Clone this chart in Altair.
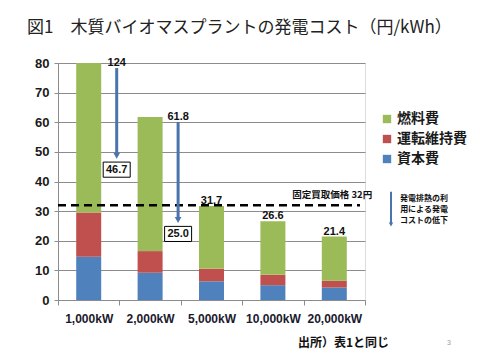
import altair as alt
import pandas as pd

# ---- data ----
categories = ["1,000kW", "2,000kW", "5,000kW", "10,000kW", "20,000kW"]
capital = [14.6, 9.2, 6.3, 5.0, 4.2]      # 資本費
om = [14.9, 7.3, 4.3, 3.5, 2.3]           # 運転維持費
fuel = [94.5, 45.3, 21.1, 18.1, 14.9]     # 燃料費
totals = [124, 61.8, 31.7, 26.6, 21.4]
series = ["燃料費", "運転維持費", "資本費"]
colors = ["#9BBB59", "#C0504D", "#4F81BD"]
fit_price = 32
fit_label = "固定買取価格 32円"
reduced_vals = [46.7, 25.0]
note_text = "発電排熱の利\n用による発電\nコストの低下"
title_text = "図1　木質バイオマスプラントの発電コスト（円/kWh）"
source_text = "出所）表1と同じ"
page_no = "3"
y_ticks = [0, 10, 20, 30, 40, 50, 60, 70, 80]

YMAX = 80
NUMFONT = "Liberation Sans"
JPFONT = "Noto Sans CJK JP"

rows = []
for i, c in enumerate(categories):
    for name, vals, order in (("資本費", capital, 0), ("運転維持費", om, 1), ("燃料費", fuel, 2)):
        rows.append({"category": c, "series": name, "value": vals[i], "order": order})
df = pd.DataFrame(rows)

xaxis = alt.Axis(title=None, tickBand="extent", labelAngle=0,
                 labelFont=NUMFONT, labelFontWeight="bold", labelFontSize=12,
                 labelColor="#1a1a2e", labelPadding=8, tickSize=5,
                 domainColor="#8c8c8c", tickColor="#8c8c8c")
xscale = alt.Scale(domain=categories, paddingInner=0, paddingOuter=0)
yaxis = alt.Axis(title=None, values=y_ticks, grid=True, gridColor="#8c8c8c",
                 domainColor="#8c8c8c", tickColor="#8c8c8c", tickSize=4,
                 labelOverlap=False, labelFont=NUMFONT, labelFontWeight="bold",
                 labelFontSize=13, labelColor="#1a1a1a", labelPadding=5)
yscale = alt.Scale(domain=[0, YMAX], nice=False, zero=True)


def X():
    return alt.X("category:N", sort=categories, scale=xscale, axis=xaxis)


def Y(field, **kw):
    return alt.Y(field, scale=yscale, axis=yaxis, **kw)


bars = alt.Chart(df).mark_bar(size=25, clip=True).encode(
    x=X(),
    y=Y("value:Q", stack="zero"),
    color=alt.Color("series:N", scale=alt.Scale(domain=series, range=colors),
                    legend=alt.Legend(title=None, orient="none", legendX=322, legendY=49,
                                      symbolType="square", symbolSize=70, symbolStrokeWidth=0,
                                      labelFont=JPFONT, labelFontWeight="bold",
                                      labelFontSize=14, labelColor="#1a1a1a",
                                      labelOffset=3, rowPadding=6)),
    order=alt.Order("order:Q"),
)

# total labels for bars without arrows
plain = pd.DataFrame({"category": categories[2:], "total": totals[2:]})
plain["label"] = plain["total"].map(lambda v: f"{v:.1f}")
plain_labels = alt.Chart(plain).mark_text(
    font=NUMFONT, fontWeight="bold", fontSize=11, baseline="bottom", color="#111"
).encode(x=X(), y=Y("total:Q"), text="label:N")

# total labels next to arrows
arr = pd.DataFrame({"category": categories[:2], "total": totals[:2]})
arr["label"] = [f"{v:g}" for v in totals[:2]]
arr["ypos"] = arr["total"].clip(upper=YMAX)
arr["start"] = arr["ypos"] - 1.7
arr["end"] = [v + 2.0 for v in reduced_vals]
arr["reduced"] = reduced_vals
arr["rlabel"] = [f"{v:.1f}" for v in reduced_vals]
OFF = 28
arrow_labels = alt.Chart(arr).mark_text(
    font=NUMFONT, fontWeight="bold", fontSize=11, baseline="middle", dx=OFF, color="#111"
).encode(x=X(), y=Y("ypos:Q"), text="label:N")

arrow_shafts = alt.Chart(arr).mark_rule(strokeWidth=3, color="#4A74AC", xOffset=OFF).encode(
    x=X(), y=Y("start:Q"), y2="end:Q")
arrow_heads = alt.Chart(arr).mark_point(shape="triangle-down", filled=True, size=45,
                                        color="#4A74AC", opacity=1, xOffset=OFF).encode(
    x=X(), y=Y("end:Q"))
box_shape = "M-1,-0.56L1,-0.56L1,0.56L-1,0.56Z"
boxes = alt.Chart(arr).mark_point(shape=box_shape, size=729, filled=False, fill="white",
                                  fillOpacity=1, stroke="black", strokeWidth=1, opacity=1,
                                  xOffset=OFF, yOffset=8).encode(
    x=X(), y=Y("reduced:Q"))
box_text = alt.Chart(arr).mark_text(font=NUMFONT, fontWeight="bold", fontSize=11,
                                    baseline="middle", dx=OFF, dy=8, color="#111").encode(
    x=X(), y=Y("reduced:Q"), text="rlabel:N")

# feed-in tariff line
fit_df = pd.DataFrame({"y": [fit_price], "label": [fit_label], "category": [categories[-1]]})
fit_line = alt.Chart(fit_df).mark_rule(color="black", strokeWidth=2.5, strokeDash=[8, 5]).encode(
    y=Y("y:Q"), x=alt.value(0), x2=alt.value(302))
fit_text = alt.Chart(fit_df).mark_text(font=JPFONT, fontWeight="bold", fontSize=9.5,
                                       baseline="middle", dy=-10, dx=-2, color="#111").encode(
    x=X(), y=Y("y:Q"), text="label:N")

# side note arrow + text
side_df = pd.DataFrame({"top": [36.5], "bot": [25.5], "note": [note_text]})
side_shaft = alt.Chart(side_df).mark_rule(strokeWidth=2, color="#4A74AC").encode(
    x=alt.value(333), y=Y("top:Q"), y2="bot:Q")
side_head = alt.Chart(side_df).mark_point(shape="triangle-down", filled=True, size=20,
                                          color="#4A74AC", opacity=1).encode(
    x=alt.value(333), y=Y("bot:Q"))
side_text = alt.Chart(side_df).mark_text(font=JPFONT, fontWeight="bold", fontSize=8,
                                         lineBreak="\n", lineHeight=11, baseline="top",
                                         align="center", color="#111").encode(
    x=alt.value(366), y=alt.value(132), text="note:N")

# title, source, page number
t_df = pd.DataFrame({"t": [title_text], "s": [source_text], "p": [page_no]})
title = alt.Chart(t_df).mark_text(font=JPFONT, fontSize=17, align="left", baseline="middle",
                                  color="#222").encode(
    x=alt.value(-31), y=alt.value(-35), text="t:N")
source = alt.Chart(t_df).mark_text(font=JPFONT, fontWeight="bold", fontSize=12, align="left",
                                   baseline="middle", color="#111").encode(
    x=alt.value(240), y=alt.value(280), text="s:N")
page = alt.Chart(t_df).mark_text(font=NUMFONT, fontSize=7, align="center",
                                 baseline="middle", color="#999").encode(
    x=alt.value(391), y=alt.value(280), text="p:N")

chart = alt.layer(
    bars, fit_line, plain_labels, arrow_shafts, arrow_heads, arrow_labels, boxes, box_text,
    fit_text, side_shaft, side_head, side_text, title, source, page
).properties(
    width=307, height=237,
    autosize=alt.AutoSizeParams(type="none"),
    padding={"left": 50, "top": 55, "right": 107, "bottom": 52},
).configure_view(stroke=None).configure(background="white")

chart.save("out.html", embed_options={"renderer": "svg", "actions": False})
